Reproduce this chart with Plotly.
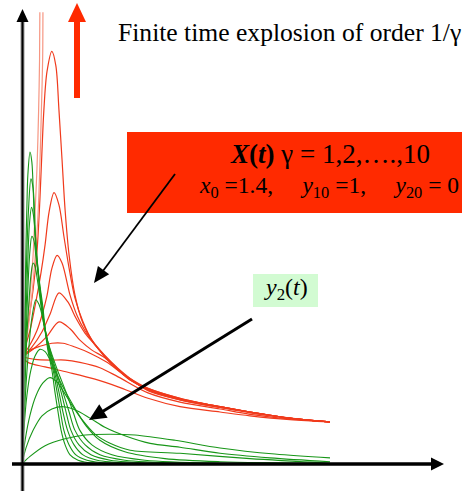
import plotly.graph_objects as go

# ---------------- data (time t, value) ----------------
# X(t), gamma = 1..10 (red)
x_g1_t = [0, 0.19, 0.75, 1.49, 2.37, 3.12, 4.09, 5.13, 6.43, 7.40, 8.70, 10.0]
x_g1_v = [1.40, 1.33, 1.27, 1.20, 1.11, 1.01, 0.86, 0.75, 0.68, 0.63, 0.58, 0.55]
x_g2_t = [0, 0.42, 0.91, 1.40, 1.88, 2.53, 3.12, 4.09, 5.13, 6.43, 7.40, 8.70, 10.0]
x_g2_v = [1.40, 1.37, 1.36, 1.36, 1.33, 1.26, 1.14, 0.93, 0.81, 0.72, 0.65, 0.59, 0.55]
x_g3_t = [0, 0.26, 0.58, 0.97, 1.33, 1.72, 2.21, 2.76, 3.34, 4.09, 5.13, 6.43, 7.40, 8.70, 10.0]
x_g3_v = [1.40, 1.49, 1.54, 1.58, 1.58, 1.53, 1.45, 1.33, 1.16, 0.99, 0.86, 0.75, 0.68, 0.60, 0.55]
x_g4_t = [0, 0.42, 0.81, 1.20, 1.56, 1.88, 2.27, 2.69, 3.12, 3.51, 4.09, 5.13, 6.43, 7.40, 8.70, 10.0]
x_g4_v = [1.40, 1.52, 1.67, 1.86, 1.77, 1.62, 1.49, 1.39, 1.23, 1.10, 0.99, 0.86, 0.75, 0.68, 0.60, 0.55]
x_g5_t = [0, 0.32, 0.65, 0.91, 1.20, 1.49, 1.75, 2.05, 2.37, 2.69, 3.12, 3.51, 4.09, 5.13, 6.43, 7.40, 8.70, 10.0]
x_g5_v = [1.40, 1.53, 1.73, 1.96, 2.24, 2.12, 1.91, 1.71, 1.56, 1.40, 1.23, 1.10, 0.98, 0.85, 0.75, 0.68, 0.60, 0.55]
x_g6_t = [0, 0.26, 0.49, 0.65, 0.81, 0.97, 1.14, 1.30, 1.56, 1.79, 2.05, 2.37, 2.69, 3.12, 3.51, 4.09, 5.13, 6.43, 7.40, 8.70, 10.0]
x_g6_v = [1.40, 1.56, 1.75, 1.95, 2.20, 2.56, 2.73, 2.63, 2.21, 1.94, 1.74, 1.56, 1.41, 1.24, 1.11, 0.97, 0.85, 0.75, 0.68, 0.60, 0.55]
x_g7_t = [0, 0.26, 0.45, 0.62, 0.75, 0.88, 1.04, 1.20, 1.36, 1.53, 1.72, 1.98, 2.27, 2.69, 3.12, 3.51, 4.09, 5.13, 6.43, 7.40, 8.70, 10.0]
x_g7_v = [1.40, 1.75, 2.12, 2.51, 2.87, 3.30, 3.55, 3.39, 2.98, 2.56, 2.17, 1.86, 1.62, 1.41, 1.24, 1.11, 0.97, 0.84, 0.74, 0.68, 0.60, 0.55]
x_g8_t = [0, 0.19, 0.36, 0.49, 0.58, 0.65, 0.71, 0.81, 0.97, 1.10, 1.20, 1.30, 1.40, 1.53, 1.72, 1.98, 2.27, 2.69, 3.12, 3.51, 4.09, 5.13, 6.43, 7.40, 8.70, 10.0]
x_g8_v = [1.40, 1.82, 2.28, 2.80, 3.45, 4.11, 4.63, 5.13, 5.40, 5.21, 4.63, 3.98, 3.32, 2.73, 2.21, 1.84, 1.62, 1.42, 1.25, 1.12, 0.96, 0.84, 0.74, 0.67, 0.60, 0.55]
x_g9_t = [0, 0.19, 0.32, 0.42, 0.52, 0.58, 0.63, 0.67, 0.68]
x_g9_v = [1.40, 1.75, 2.21, 2.67, 3.26, 3.91, 4.63, 5.29, 5.91]
x_g10_t = [0, 0.16, 0.26, 0.36, 0.42, 0.49, 0.54, 0.57, 0.58]
x_g10_v = [1.40, 1.75, 2.21, 2.73, 3.26, 3.91, 4.63, 5.29, 5.91]

# y2(t), gamma = 1..10 (green)
y_g1_t = [0, 0.26, 0.75, 1.40, 2.05, 2.86, 3.67, 4.97, 6.43, 8.21, 10.0]
y_g1_v = [0, 0.10, 0.24, 0.33, 0.38, 0.39, 0.38, 0.31, 0.21, 0.13, 0.08]
y_g2_t = [0, 0.13, 0.36, 0.65, 0.97, 1.33, 1.72, 2.21, 2.69, 3.34, 4.16, 5.13, 6.43, 8.05, 10.0]
y_g2_v = [0, 0.21, 0.44, 0.63, 0.72, 0.75, 0.71, 0.60, 0.48, 0.37, 0.27, 0.22, 0.14, 0.08, 0.03]
y_g3_t = [0, 0.10, 0.26, 0.45, 0.68, 0.91, 1.14, 1.36, 1.62, 1.95, 2.37, 2.86, 3.51, 5.13, 7.40, 10.0]
y_g3_v = [0, 0.31, 0.64, 0.89, 1.06, 1.13, 1.07, 0.94, 0.77, 0.58, 0.39, 0.27, 0.18, 0.14, 0.07, 0.01]
y_g4_t = [0, 0.06, 0.16, 0.29, 0.42, 0.58, 0.75, 0.91, 1.10, 1.30, 1.53, 1.79, 2.08, 2.53, 3.34, 4.64, 6.43, 10.0]
y_g4_v = [0, 0.44, 0.90, 1.23, 1.41, 1.50, 1.47, 1.36, 1.20, 1.03, 0.86, 0.68, 0.50, 0.31, 0.16, 0.07, 0.03, 0.01]
y_g5_t = [0, 0.06, 0.13, 0.23, 0.32, 0.45, 0.55, 0.65, 0.78, 0.94, 1.15, 1.43, 1.66, 1.88, 2.27, 2.92, 3.99, 6.43, 10.0]
y_g5_v = [0, 0.51, 1.03, 1.56, 1.91, 2.15, 2.09, 1.95, 1.69, 1.47, 1.23, 0.94, 0.68, 0.44, 0.25, 0.12, 0.05, 0.01, 0]
y_g6_t = [0, 0.05, 0.10, 0.16, 0.24, 0.29, 0.36, 0.42, 0.50, 0.60, 0.71, 0.91, 1.10, 1.33, 1.53, 1.72, 2.05, 2.53, 3.34, 5.29, 8.70, 10.0]
y_g6_v = [0, 0.44, 1.03, 1.69, 2.21, 2.47, 2.63, 2.59, 2.41, 2.12, 1.82, 1.49, 1.23, 0.94, 0.68, 0.44, 0.25, 0.12, 0.05, 0.01, 0, 0]
y_g7_t = [0, 0.03, 0.08, 0.15, 0.21, 0.26, 0.32, 0.39, 0.45, 0.54, 0.63, 0.76, 0.89, 1.07, 1.27, 1.43, 1.59, 1.85, 2.24, 2.86, 4.32, 7.08, 10.0]
y_g7_v = [0, 0.38, 1.10, 1.88, 2.47, 2.80, 2.98, 2.92, 2.72, 2.43, 2.08, 1.75, 1.49, 1.23, 0.94, 0.68, 0.44, 0.25, 0.12, 0.05, 0.01, 0, 0]
y_g8_t = [0, 0.03, 0.08, 0.13, 0.19, 0.24, 0.31, 0.37, 0.44, 0.50, 0.58, 0.67, 0.76, 0.88, 1.04, 1.20, 1.33, 1.48, 1.69, 1.98, 2.44, 3.51, 5.78, 10.0]
y_g8_v = [0, 0.44, 1.23, 1.95, 2.67, 3.13, 3.36, 3.26, 2.96, 2.64, 2.34, 2.08, 1.75, 1.49, 1.23, 0.94, 0.68, 0.44, 0.25, 0.12, 0.05, 0.01, 0, 0]
y_g9_t = [0, 0.03, 0.06, 0.11, 0.16, 0.21, 0.29, 0.36, 0.41, 0.45, 0.52, 0.62, 0.73, 0.86, 1.01, 1.14, 1.25, 1.36, 1.53, 1.75, 2.11, 2.86, 4.81, 10.0]
y_g9_v = [0, 0.51, 1.23, 2.08, 2.80, 3.32, 3.73, 3.61, 3.26, 2.87, 2.54, 2.17, 1.82, 1.49, 1.23, 0.94, 0.68, 0.44, 0.25, 0.12, 0.05, 0.01, 0, 0]
y_g10_t = [0, 0.03, 0.06, 0.10, 0.13, 0.16, 0.19, 0.26, 0.32, 0.37, 0.42, 0.49, 0.58, 0.71, 0.84, 0.97, 1.07, 1.17, 1.27, 1.40, 1.56, 1.82, 2.37, 3.83, 10.0]
y_g10_v = [0, 0.58, 1.36, 2.15, 2.87, 3.39, 3.78, 4.08, 3.95, 3.52, 3.00, 2.64, 2.28, 1.86, 1.49, 1.23, 0.94, 0.68, 0.44, 0.25, 0.12, 0.05, 0.01, 0, 0]

title_text = "Finite time explosion of order 1/\u03b3"
box_title = "<b><i>X</i>(<i>t</i>)</b> \u03b3 = 1,2,\u2026.,10"
GAP = "\u00a0" * 5
box_sub = ("<i>x</i><sub>0</sub> =1.4," + GAP + "<i>y</i><sub>10</sub> =1," + GAP +
           "<i>y</i><sub>20</sub> = 0")
green_label = "<i>y</i><sub>2</sub>(<i>t</i>)"

# ---------------- figure ----------------
W, H = 462, 491
SERIF = "Liberation Serif, Times New Roman, serif"
RED = "#FF2A00"
RED_LINE = "rgb(240,58,28)"
RED_LIGHT = "rgb(246,150,130)"
GREEN_LINE = "rgb(24,150,24)"

fig = go.Figure()

red_series = [(x_g1_t, x_g1_v), (x_g2_t, x_g2_v), (x_g3_t, x_g3_v), (x_g4_t, x_g4_v),
              (x_g5_t, x_g5_v), (x_g6_t, x_g6_v), (x_g7_t, x_g7_v), (x_g8_t, x_g8_v),
              (x_g9_t, x_g9_v), (x_g10_t, x_g10_v)]
for i, (t, v) in enumerate(red_series):
    col = RED_LIGHT if i >= 8 else RED_LINE
    fig.add_trace(go.Scatter(x=t, y=v, mode="lines", hoverinfo="skip", showlegend=False,
                             line=dict(color=col, width=1.2, shape="spline", smoothing=0.9)))

green_series = [(y_g1_t, y_g1_v), (y_g2_t, y_g2_v), (y_g3_t, y_g3_v), (y_g4_t, y_g4_v),
                (y_g5_t, y_g5_v), (y_g6_t, y_g6_v), (y_g7_t, y_g7_v), (y_g8_t, y_g8_v),
                (y_g9_t, y_g9_v), (y_g10_t, y_g10_v)]
for t, v in green_series:
    fig.add_trace(go.Scatter(x=t, y=v, mode="lines", hoverinfo="skip", showlegend=False,
                             line=dict(color=GREEN_LINE, width=1.1, shape="spline", smoothing=0.9)))


def P(px, py):
    return px / W, 1 - py / H


shapes = []


def rect(x0, y0, x1, y1, color):
    a, b = P(x0, y0)
    c, d = P(x1, y1)
    shapes.append(dict(type="rect", xref="paper", yref="paper", x0=a, y0=b, x1=c, y1=d,
                       fillcolor=color, line=dict(width=0), layer="above"))


def seg(x0, y0, x1, y1, width, color):
    a, b = P(x0, y0)
    c, d = P(x1, y1)
    shapes.append(dict(type="line", xref="paper", yref="paper", x0=a, y0=b, x1=c, y1=d,
                       line=dict(color=color, width=width), layer="above"))


def tri(p1, p2, p3, color):
    pts = [P(*p) for p in (p1, p2, p3)]
    path = "M {:.5f},{:.5f} L {:.5f},{:.5f} L {:.5f},{:.5f} Z".format(
        pts[0][0], pts[0][1], pts[1][0], pts[1][1], pts[2][0], pts[2][1])
    shapes.append(dict(type="path", xref="paper", yref="paper", path=path,
                       fillcolor=color, line=dict(width=0), layer="above"))


def arrow(x0, y0, x1, y1, lw, hl, hw, color):
    dx, dy = x1 - x0, y1 - y0
    L = (dx * dx + dy * dy) ** 0.5
    ux, uy = dx / L, dy / L
    bx, by = x1 - hl * ux, y1 - hl * uy
    nx, ny = -uy, ux
    seg(x0, y0, bx + ux * 1.0, by + uy * 1.0, lw, color)
    tri((x1, y1), (bx + nx * hw, by + ny * hw), (bx - nx * hw, by - ny * hw), color)


# axes
seg(22.5, 491, 22.5, 20, 4, "#9a9a9a")
seg(22.5, 491, 22.5, 20, 2, "black")
tri((22.5, 9), (16.5, 22), (28.5, 22), "black")
seg(12, 464, 433, 464, 3.5, "black")
tri((444, 464), (431, 457.5), (431, 470.5), "black")

# red explosion arrow
rect(74, 21, 80, 98, RED)
tri((77, 3), (68, 22), (86, 22), RED)

# boxes
rect(127, 132, 462, 213, RED)
rect(253, 274, 318, 307, "#D2FBD2")

# black pointer arrows
arrow(175, 174, 94, 283, 1.8, 16, 7, "black")
arrow(252, 319, 89, 420, 3, 17, 8, "black")

annotations = []


def text(px, py, s, size, anchor="center"):
    x, y = P(px, py)
    annotations.append(dict(x=x, y=y, xref="paper", yref="paper", text=s, showarrow=False,
                            xanchor=anchor, yanchor="middle",
                            font=dict(family=SERIF, size=size, color="black")))


text(116, 33, title_text, 25.6, "left")
text(330, 154, box_title, 27)
text(329, 187, box_sub, 23.5)
text(285.5, 289, green_label, 24)

fig.update_layout(
    width=W, height=H, margin=dict(l=0, r=0, t=0, b=0),
    paper_bgcolor="white", plot_bgcolor="white",
    xaxis=dict(visible=False, range=[-22 / 30.8, 440 / 30.8], fixedrange=True),
    yaxis=dict(visible=False, range=[-27 / 76.43, 464 / 76.43], fixedrange=True),
    shapes=shapes, annotations=annotations,
)

fig.write_html("out.html")
